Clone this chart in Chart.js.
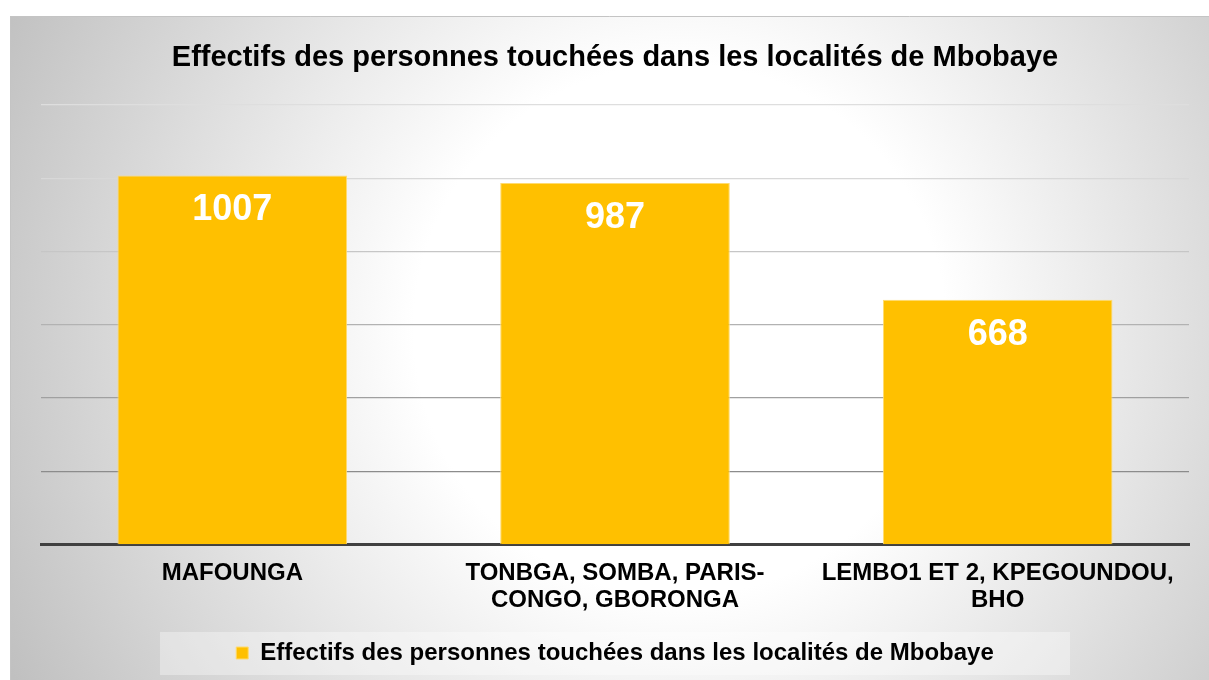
<!DOCTYPE html>
<html lang="fr">
  <head>
    <meta charset="UTF-8" />
    <script src="https://cdn.jsdelivr.net/npm/chart.js@4.4.0/dist/chart.umd.min.js"></script>
    <title>Mbobaye</title>
    <style>
      body { margin: 0; background: #fff; }
    </style>
  </head>
  <body>
    <canvas id="chart" width="1209" height="680"></canvas>
    <script>
      const titleText = "Effectifs des personnes touchées dans les localités de Mbobaye";
      const seriesName = "Effectifs des personnes touchées dans les localités de Mbobaye";
      const categories = [
        "MAFOUNGA",
        ["TONBGA, SOMBA, PARIS-", "CONGO, GBORONGA"],
        ["LEMBO1 ET 2, KPEGOUNDOU,", "BHO"],
      ];
      const values = [1007, 987, 668];
      const yMax = 1200;
      const yStep = 200;

      const font = "'Liberation Sans', Arial, sans-serif";

      // grid lines get darker toward the bottom, like the original
      const gridColors = {
        0: "rgba(0,0,0,0)",
        200: "#8c8c8c",
        400: "#a0a0a0",
        600: "#b2b2b2",
        800: "#c6c6c6",
        1000: "#d8d8d8",
        1200: "#dedede",
      };

      // gray radial background + legend box
      const backdrop = {
        id: "backdrop",
        beforeDraw(chart) {
          const ctx = chart.ctx;
          const w = chart.width, h = chart.height;
          ctx.save();
          ctx.fillStyle = "#fff";
          ctx.fillRect(0, 0, w, h);
          let g = ctx.createRadialGradient(680, 330, 0, 680, 330, 760);
          g.addColorStop(0, "#ffffff");
          g.addColorStop(0.35, "#ffffff");
          g.addColorStop(1, "#bfbfbf");
          ctx.fillStyle = g;
          ctx.fillRect(10, 16, w - 10, h - 16);
          ctx.strokeStyle = "#c4c4c4";
          ctx.lineWidth = 1;
          ctx.beginPath();
          ctx.moveTo(10.5, h);
          ctx.lineTo(10.5, 16.5);
          ctx.lineTo(w, 16.5);
          ctx.stroke();

          const lg = chart.legend;
          if (lg && lg.legendHitBoxes && lg.legendHitBoxes.length) {
            const hb = lg.legendHitBoxes[0];
            ctx.fillStyle = "rgba(255,255,255,0.35)";
            ctx.fillRect(160, hb.top + hb.height / 2 - 21, 910, 43);
          }
          ctx.restore();
        },
      };

      // values written inside the top of each bar
      const valueLabels = {
        id: "valueLabels",
        afterDatasetsDraw(chart) {
          const ctx = chart.ctx;
          const meta = chart.getDatasetMeta(0);
          ctx.save();
          ctx.fillStyle = "#ffffff";
          ctx.font = "bold 36px " + font;
          ctx.textAlign = "center";
          ctx.textBaseline = "middle";
          meta.data.forEach((bar, i) => {
            ctx.fillText(String(values[i]), bar.x, bar.y + 35);
          });
          ctx.restore();
        },
      };

      new Chart(document.getElementById("chart"), {
        type: "bar",
        data: {
          labels: categories,
          datasets: [
            {
              label: seriesName,
              data: values,
              backgroundColor: "#FFC000",
              borderColor: "#FFDB70",
              borderWidth: 1,
              barPercentage: 0.6,
              categoryPercentage: 1,
            },
          ],
        },
        options: {
          responsive: false,
          animation: false,
          layout: { padding: { left: 41, right: 20, top: 16, bottom: 5 } },
          plugins: {
            title: {
              display: true,
              text: titleText,
              color: "#000",
              font: { family: font, size: 29, weight: "bold" },
              padding: { top: 25, bottom: 29 },
            },
            legend: {
              position: "bottom",
              labels: {
                color: "#000",
                font: { family: font, size: 24, weight: "bold" },
                boxWidth: 12,
                boxHeight: 12,
                padding: 12.5,
              },
            },
            tooltip: { enabled: false },
          },
          scales: {
            x: {
              grid: { display: false, drawTicks: false },
              border: { display: true, color: "#404040", width: 3 },
              ticks: {
                color: "#000",
                font: { family: font, size: 24, weight: "bold", lineHeight: 1.12 },
                padding: 15,
                maxRotation: 0,
                autoSkip: false,
              },
            },
            y: {
              min: 0,
              max: yMax,
              ticks: { display: false, stepSize: yStep },
              border: { display: false },
              grid: {
                drawTicks: false,
                color: (c) => gridColors[c.tick.value] || "#cccccc",
                lineWidth: 1.2,
              },
            },
          },
        },
        plugins: [backdrop, valueLabels],
      });
    </script>
  </body>
</html>
